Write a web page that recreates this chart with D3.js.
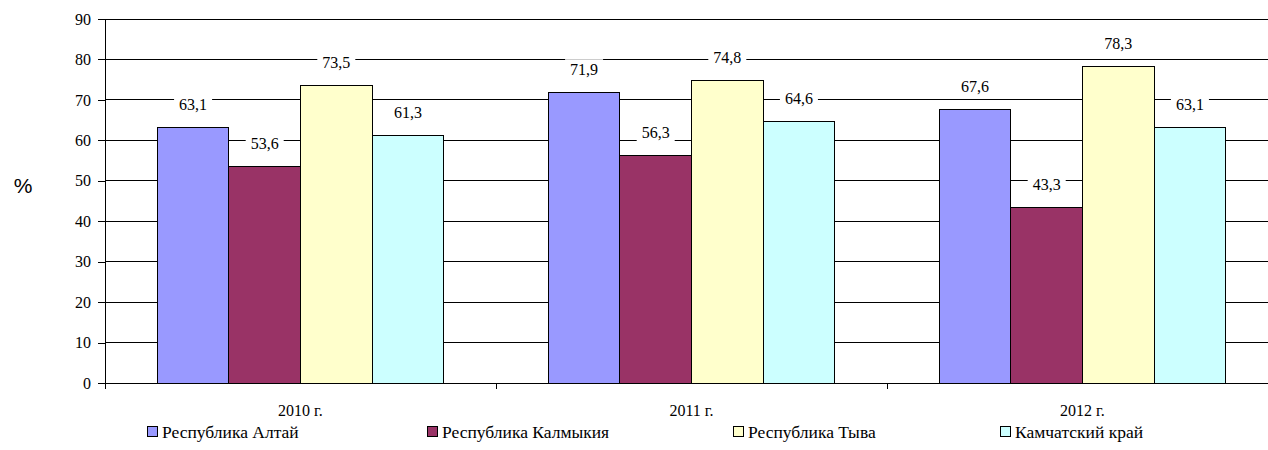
<!DOCTYPE html>
<html>
<head>
<meta charset="utf-8">
<script src="https://cdn.jsdelivr.net/npm/d3@7/dist/d3.min.js"></script>
<style>
  body { margin: 0; background: #fff; }
  svg { display: block; }
</style>
</head>
<body>
<div id="chart"></div>
<script>
// data
const years = ["2010 г.", "2011 г.", "2012 г."];
const regions = ["Республика Алтай", "Республика Калмыкия", "Республика Тыва", "Камчатский край"];
const altai = [63.1, 71.9, 67.6];
const kalmykia = [53.6, 56.3, 43.3];
const tyva = [73.5, 74.8, 78.3];
const kamchatka = [61.3, 64.6, 63.1];
const yTicks = [0, 10, 20, 30, 40, 50, 60, 70, 80, 90];
const colors = ["#9999ff", "#993366", "#ffffcc", "#ccffff"];

const seriesValues = [altai, kalmykia, tyva, kamchatka];
const serif = "'Liberation Serif', 'Times New Roman', 'DejaVu Serif', serif";

const w = 1268, h = 450;
const plotL = 105, plotR = 1278, plotT = 19, plotB = 383;

const svg = d3.select("#chart").append("svg")
    .attr("width", w)
    .attr("height", h);

const x0 = d3.scaleBand().domain(years).range([plotL, plotR]).paddingInner(0).paddingOuter(0);
// bars cover ~73% of each category
const x1 = d3.scaleBand().domain(d3.range(regions.length)).range([0, x0.bandwidth()]).paddingOuter(0.73).paddingInner(0);
const y = d3.scaleLinear().domain([0, 90]).range([plotB, plotT]);

// gridlines
svg.append("g").selectAll("line")
    .data(yTicks.filter(d => d > 0))
    .enter().append("line")
    .attr("x1", plotL).attr("x2", plotR)
    .attr("y1", d => y(d)).attr("y2", d => y(d))
    .style("stroke", "#000").style("stroke-width", 1)
    .attr("shape-rendering", "crispEdges");

// bars
const rows = [];
years.forEach((yr, i) => {
  seriesValues.forEach((s, j) => rows.push({ year: yr, s: j, v: s[i] }));
});

svg.append("g").selectAll("rect")
    .data(rows)
    .enter().append("rect")
    .attr("x", d => x0(d.year) + x1(d.s))
    .attr("y", d => y(d.v))
    .attr("width", x1.bandwidth())
    .attr("height", d => y(0) - y(d.v))
    .style("fill", d => colors[d.s])
    .style("stroke", "#000").style("stroke-width", 1)
    .attr("shape-rendering", "crispEdges");

// data labels with white background
const lbls = svg.append("g").selectAll("g")
    .data(rows)
    .enter().append("g")
    .attr("transform", d => `translate(${x0(d.year) + x1(d.s) + x1.bandwidth() / 2},${y(d.v) - 23})`);

lbls.append("rect")
    .attr("x", -19).attr("y", -10).attr("width", 38).attr("height", 20)
    .style("fill", "#fff");

lbls.append("text")
    .attr("text-anchor", "middle")
    .attr("dy", "0.35em")
    .style("font-family", serif).style("font-size", "16px").style("fill", "#000")
    .text(d => d.v.toFixed(1).replace(".", ","));

// y axis
const yAxis = svg.append("g")
    .attr("transform", `translate(${plotL},0)`)
    .call(d3.axisLeft(y).tickValues(yTicks).tickSize(7).tickPadding(7));
yAxis.select(".domain").attr("d", `M0,${plotT}V${plotB}`);
yAxis.selectAll("line, path").style("stroke", "#000").attr("shape-rendering", "crispEdges");
yAxis.selectAll("text").style("font-family", serif).style("font-size", "16px").style("fill", "#000");

// x axis
const xAxis = svg.append("g")
    .attr("transform", `translate(0,${plotB})`);
xAxis.append("line")
    .attr("x1", plotL).attr("x2", plotR).attr("y1", 0).attr("y2", 0)
    .style("stroke", "#000").attr("shape-rendering", "crispEdges");
xAxis.selectAll(".tk")
    .data(years)
    .enter().append("line")
    .attr("class", "tk")
    .attr("x1", d => x0(d)).attr("x2", d => x0(d))
    .attr("y1", 0).attr("y2", 6)
    .style("stroke", "#000").attr("shape-rendering", "crispEdges");
xAxis.selectAll("text")
    .data(years)
    .enter().append("text")
    .attr("x", d => x0(d) + x0.bandwidth() / 2)
    .attr("y", 33)
    .attr("text-anchor", "middle")
    .style("font-family", serif).style("font-size", "16px").style("fill", "#000")
    .text(d => d);

// y axis title
svg.append("text")
    .attr("x", 23).attr("y", 193)
    .attr("text-anchor", "middle")
    .style("font-family", "'Liberation Sans', Arial, sans-serif")
    .style("font-size", "21px")
    .text("%");

// legend
const legX = [147, 427, 733, 1000];
const leg = svg.append("g").selectAll("g")
    .data(regions)
    .enter().append("g")
    .attr("transform", (d, i) => `translate(${legX[i]},432)`);
leg.append("rect")
    .attr("x", 0.5).attr("y", -5.5).attr("width", 10).attr("height", 10)
    .style("fill", (d, i) => colors[i])
    .style("stroke", "#000").style("stroke-width", 1);
leg.append("text")
    .attr("x", 15).attr("dy", "0.35em")
    .style("font-family", serif).style("font-size", "17.5px").style("fill", "#000")
    .text(d => d);
</script>
</body>
</html>
